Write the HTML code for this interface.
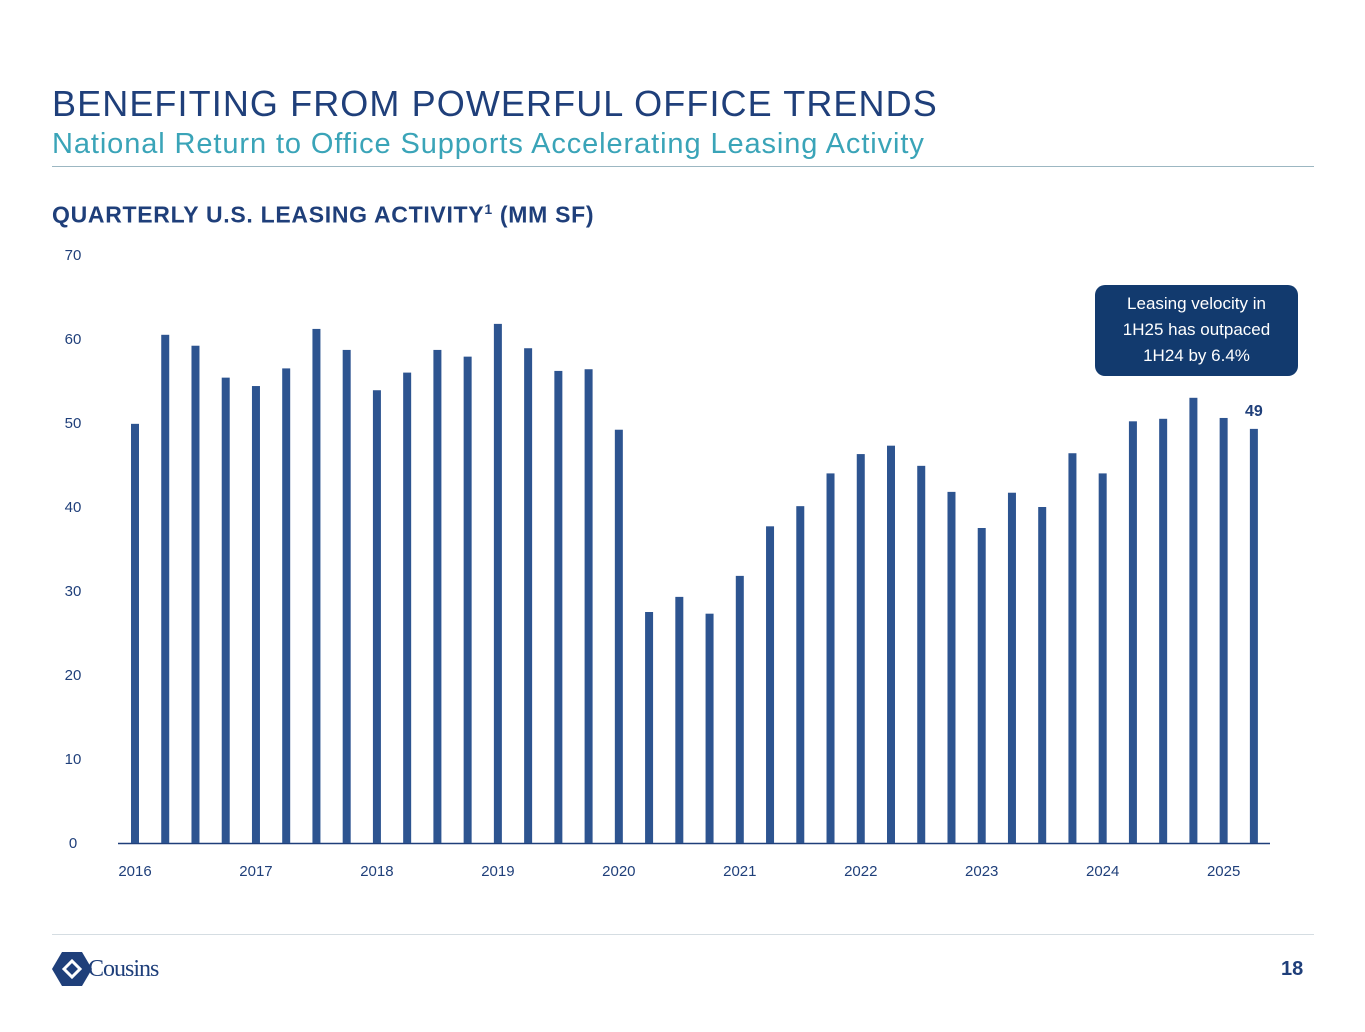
<!DOCTYPE html>
<html><head><meta charset="utf-8"><style>
body{margin:0;width:1365px;height:1032px;background:#fff;font-family:"Liberation Sans",sans-serif;position:relative;overflow:hidden}
.abs{position:absolute;white-space:nowrap}
</style></head><body>
<div class="abs" style="left:52px;top:83px;font-size:36px;color:#1f3f7a;letter-spacing:1.1px">BENEFITING FROM POWERFUL OFFICE TRENDS</div>
<div class="abs" style="left:52px;top:128px;font-size:29px;color:#3aa4b8;letter-spacing:0.9px">National Return to Office Supports Accelerating Leasing Activity</div>
<div class="abs" style="left:52px;top:166px;width:1262px;height:1px;background:#9cb7c2"></div>
<div class="abs" style="left:52px;top:201px;font-size:23px;font-weight:bold;color:#1f3f7a;letter-spacing:0.7px">QUARTERLY U.S. LEASING ACTIVITY<sup style="font-size:14px">1</sup> (MM SF)</div>
<svg class="abs" style="left:0;top:0" width="1365" height="1032" id="chart"></svg>
<div class="abs" style="left:1095px;top:285px;width:203px;height:91px;background:#123a6e;border-radius:10px;color:#fff;font-size:17px;line-height:26px;text-align:center;padding-top:6px;box-sizing:border-box">Leasing velocity in<br>1H25 has outpaced<br>1H24 by 6.4%</div>
<div class="abs" style="left:52px;top:934px;width:1262px;height:1px;background:#d5dde2"></div>
<svg class="abs" style="left:52px;top:952px" width="40" height="34"><polygon points="10,0 30,0 40,17 30,34 10,34 0,17" fill="#1f3f7a"/><path d="M12 17 l8-8 l8 8 l-8 8z" fill="none" stroke="#fff" stroke-width="3"/></svg>
<div class="abs" style="left:88px;top:956px;font-family:'Liberation Serif',serif;font-size:24px;color:#1f3f7a;letter-spacing:-1px">Cousins</div>
<div class="abs" style="left:1281px;top:958px;font-size:20px;font-weight:bold;color:#1f3f7a">18</div>
<script>
const values=[49.9,60.5,59.2,55.4,54.4,56.5,61.2,58.7,53.9,56.0,58.7,57.9,61.8,58.9,56.2,56.4,49.2,27.5,29.3,27.3,31.8,37.7,40.1,44.0,46.3,47.3,44.9,41.8,37.5,41.7,40.0,46.4,44.0,50.2,50.5,53.0,50.6,49.3];
const yTicks=[0,10,20,30,40,50,60,70];
const years=["2016","2017","2018","2019","2020","2021","2022","2023","2024","2025"];
const svg=document.getElementById('chart');
const NS='http://www.w3.org/2000/svg';
const y=v=>843-v*8.4;
const x=i=>135+i*30.24;
function el(t,a,txt){const e=document.createElementNS(NS,t);for(const k in a)e.setAttribute(k,a[k]);if(txt!=null)e.textContent=txt;svg.appendChild(e);return e;}
yTicks.forEach(t=>{const e=el('text',{x:73,y:y(t)+5,'font-size':15,fill:'#1f3f7a','text-anchor':'middle'},t);

});
const ax=el('line',{x1:118,x2:1270,y1:843.5,y2:843.5,stroke:'#1f3f7a','stroke-width':1.5});


values.forEach((v,i)=>{const b=el('rect',{x:x(i)-4,y:y(v),width:8,height:843-y(v),fill:'#2d5490'});

});
years.forEach((yr,j)=>{const e=el('text',{x:x(j*4),y:876,'font-size':15,fill:'#1f3f7a','text-anchor':'middle'},yr);

});
const last=values.length-1;
const lb=el('text',{x:x(last),y:y(values[last])-13,'font-size':16,'font-weight':'bold',fill:'#1f3f7a','text-anchor':'middle'},Math.round(values[last]));


</script>
</body></html>
